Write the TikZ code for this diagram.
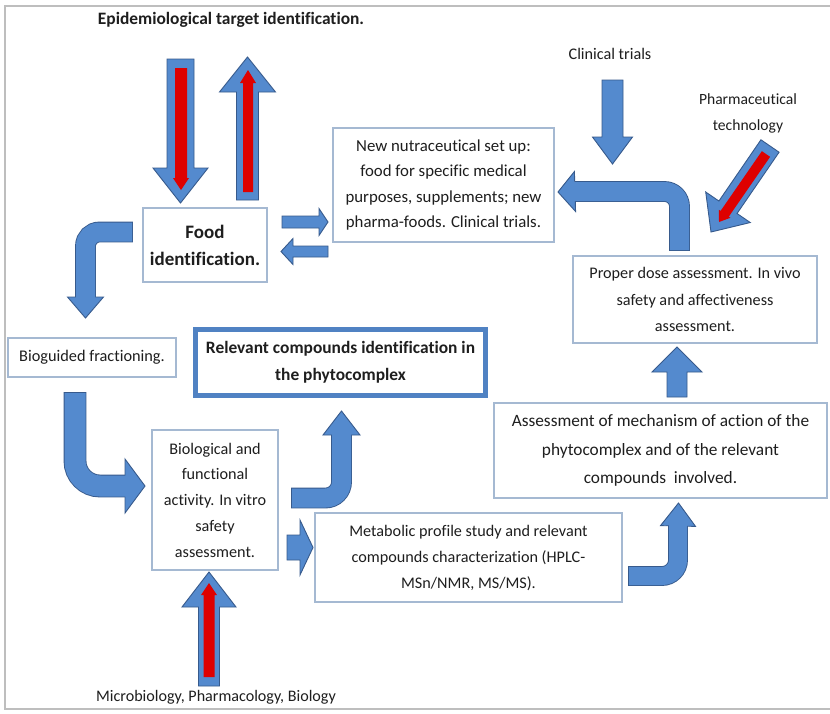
\documentclass[tikz,border=0pt]{standalone}
\usepackage{fontspec}
\setmainfont{Carlito}[Ligatures=NoCommon]
\usetikzlibrary{calc}
\definecolor{bfill}{RGB}{84,138,206}
\definecolor{bline}{RGB}{55,90,140}
\definecolor{redfill}{RGB}{222,0,0}
\definecolor{boxline}{RGB}{165,185,210}
\definecolor{relline}{RGB}{80,130,195}
\definecolor{txt}{RGB}{30,30,30}
\definecolor{framec}{RGB}{190,190,190}
% straight block arrow: style, tail, tip, shaft half width, head half width, head length
\newcommand\blockarrow[6]{%
  \coordinate (ba-t) at #2;
  \coordinate (ba-p) at #3;
  \coordinate (ba-h) at ($(ba-p)!#6!(ba-t)$);
  \path[#1] ($(ba-t)!#4!90:(ba-p)$) -- ($(ba-h)!#4!90:(ba-p)$) -- ($(ba-h)!#5!90:(ba-p)$) -- (ba-p)
    -- ($(ba-h)!#5!-90:(ba-p)$) -- ($(ba-h)!#4!-90:(ba-p)$) -- ($(ba-t)!#4!-90:(ba-p)$) -- cycle;
}
% bent block arrow: tail, corner, head base, thickness, radius, head half width, tip
\newcommand\bentarrow[7]{%
  \draw[draw=bline, line width=#4+1.8pt, rounded corners=#5, shorten <=-0.9pt] #1 -- #2 -- #3;
  \filldraw[bluearrow] ($#3!#6!90:#7$) -- #7 -- ($#3!#6!-90:#7$) -- cycle;
  \draw[draw=bfill, line width=#4, rounded corners=#5] #1 -- #2 -- ($#3!1.5pt!#7$);
}
\tikzset{
  bluearrow/.style={fill=bfill, draw=bline, line width=0.9pt, line join=miter},
  redarrow/.style={fill=redfill},
  box/.style={draw=boxline, line width=1.2pt, fill=white, text=txt, align=center, inner sep=0pt},
  label/.style={text=txt, align=center, inner sep=0pt},
}
\begin{document}
\begin{tikzpicture}[x=1pt,y=-1pt]
\useasboundingbox (0,0) rectangle (830,713);
\fill[white] (0,0) rectangle (830,713);
\draw[framec, line width=1.2pt] (830,6) -- (5,6) -- (5,709) -- (830,709);

% texts without boxes
\node[label, font=\fontsize{17.4}{21}\selectfont\bfseries] (title) at (231,20) {Epidemiological target identification.};
\node[label, font=\fontsize{16.2}{20}\selectfont] (clin) at (610,54) {Clinical trials};
\node[label, font=\fontsize{15.6}{26}\selectfont] (pharm) at (748,113) {Pharmaceutical\\technology};
\node[label, font=\fontsize{16.1}{20}\selectfont] (micro) at (216,697) {Microbiology, Pharmacology, Biology};

% straight arrows
\blockarrow{bluearrow}{(180.5,59)}{(180.5,203)}{13.5pt}{27.5pt}{35pt}
\blockarrow{redarrow}{(181,68)}{(181,190)}{6pt}{8pt}{12pt}
\blockarrow{bluearrow}{(247.5,200)}{(247.5,57)}{11pt}{28pt}{35pt}
\blockarrow{redarrow}{(248,192)}{(248,70)}{5pt}{8pt}{13pt}
\blockarrow{bluearrow}{(282,222)}{(328,222)}{6pt}{13.5pt}{9pt}
\blockarrow{bluearrow}{(328,251.5)}{(281,251.5)}{5.5pt}{13pt}{12pt}
\blockarrow{bluearrow}{(612.5,80)}{(612.5,164)}{10.5pt}{20pt}{27pt}
\blockarrow{bluearrow}{(770,146)}{(711,232)}{11pt}{27pt}{30pt}
\blockarrow{redarrow}{(766,154)}{(719,222)}{5pt}{7pt}{10pt}
\blockarrow{bluearrow}{(677,397)}{(677,347)}{10pt}{25pt}{25pt}
\blockarrow{bluearrow}{(287,547.5)}{(313,547.5)}{12.5pt}{27.5pt}{13pt}
\blockarrow{bluearrow}{(209,686)}{(209,572)}{10.5pt}{27pt}{35pt}
\blockarrow{redarrow}{(209,677)}{(209,583)}{5.5pt}{8pt}{12pt}

% bent arrows
\bentarrow{(132,232)}{(85.5,232)}{(85.5,297)}{19pt}{14pt}{18pt}{(85.5,318)}
\bentarrow{(75,393)}{(75,486)}{(125,486)}{21pt}{25pt}{27pt}{(145,486)}
\bentarrow{(292,498)}{(341.5,498)}{(341.5,435)}{19pt}{16pt}{18.5pt}{(341.5,411)}
\bentarrow{(629,576)}{(678,576)}{(678,526)}{18pt}{16pt}{17.5pt}{(678.5,503)}
\bentarrow{(679.5,250)}{(679.5,191.5)}{(575,191.5)}{19pt}{15pt}{20pt}{(558,192)}

% boxes
\node[box, minimum width=124pt, minimum height=74pt, font=\fontsize{19}{27}\selectfont\bfseries] (food) at (205,245) {Food\\identification.};
\node[box, minimum width=221pt, minimum height=114pt, font=\fontsize{16.8}{25.5}\selectfont] (nutra) at (443.5,185) {New nutraceutical set up:\\food for specific medical\\purposes, supplements; new\\pharma-foods. Clinical trials.};
\node[box, minimum width=244pt, minimum height=87pt, font=\fontsize{16.2}{26.5}\selectfont] (proper) at (695,299.5) {Proper dose assessment. In vivo\\safety and affectiveness\\assessment.};
\node[box, minimum width=333pt, minimum height=95pt, font=\fontsize{17.3}{28.5}\selectfont] (assess) at (660.5,450.5) {Assessment of mechanism of action of the\\phytocomplex and of the relevant\\compounds\ \ involved.};
\node[box, minimum width=307pt, minimum height=89pt, font=\fontsize{16.2}{26}\selectfont] (metab) at (468.5,557.5) {Metabolic profile study and relevant\\compounds characterization (HPLC-\\MSn/NMR, MS/MS).};
\node[box, minimum width=126pt, minimum height=140pt, font=\fontsize{16.2}{25.75}\selectfont] (bio) at (215,500) {Biological and\\functional\\activity. In vitro\\safety\\assessment.};
\node[box, minimum width=168pt, minimum height=39pt, font=\fontsize{16.3}{20}\selectfont] (biog) at (92,357.5) {Bioguided fractioning.};
\node[box, draw=relline, line width=5pt, minimum width=290pt, minimum height=66pt, font=\fontsize{17.4}{27}\selectfont\bfseries] (relev) at (340.5,362.5) {Relevant compounds identification in\\the phytocomplex};
\end{tikzpicture}
\end{document}
